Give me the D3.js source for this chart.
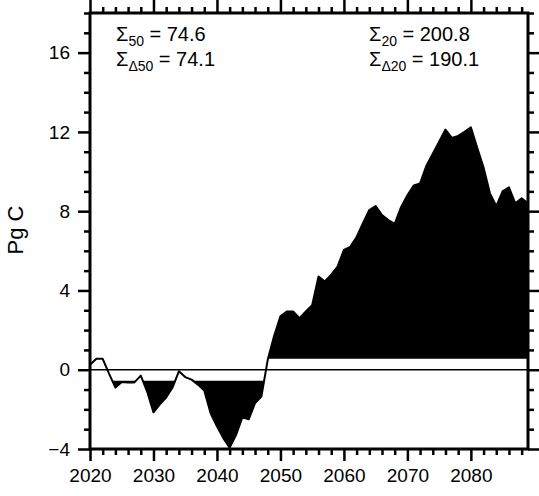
<!DOCTYPE html>
<html>
<head>
<meta charset="utf-8">
<script src="https://cdn.jsdelivr.net/npm/d3@7/dist/d3.min.js"></script>
<style>
  html, body { margin: 0; padding: 0; background: #fff; }
  svg { display: block; }
  text { font-family: "Liberation Sans", Arial, Helvetica, sans-serif; fill: #000; }
</style>
</head>
<body>
<svg id="chart" width="539" height="496"></svg>
<script>
// ---------- data ----------
const years = d3.range(2020, 2090);
const values = [
  0.25, 0.55, 0.55, -0.2, -0.9, -0.62, -0.65, -0.64, -0.3, -1.1,
  -2.15, -1.75, -1.4, -0.9, -0.08, -0.37, -0.5, -0.75, -1.05, -2.2,
  -2.85, -3.45, -3.93, -3.3, -2.4, -2.5, -1.68, -1.35, 0.5, 1.7,
  2.7, 2.94, 2.94, 2.6, 2.94, 3.25, 4.7, 4.45, 4.8, 5.2,
  6.05, 6.2, 6.7, 7.4, 8.06, 8.26, 7.8, 7.55, 7.36, 8.2,
  8.8, 9.3, 9.4, 10.3, 10.9, 11.5, 12.12, 11.7, 11.8, 12.0,
  12.23, 11.2, 10.2, 8.9, 8.26, 9.0, 9.2, 8.4, 8.65, 8.4
];
const xMajorTicks = [2020, 2030, 2040, 2050, 2060, 2070, 2080];
const yMajorTicks = [-4, 0, 4, 8, 12, 16];
const xDomain = [2020, 2089];
const yDomain = [-4, 18];
const fillThreshold = 0.55;
const yLabel = "Pg C";
const annotations = [
  { base: "\u03A3", sub: "50", rest: " = 74.6", pos: "left", line: 0 },
  { base: "\u03A3", sub: "\u039450", rest: " = 74.1", pos: "left", line: 1 },
  { base: "\u03A3", sub: "20", rest: " = 200.8", pos: "right", line: 0 },
  { base: "\u03A3", sub: "\u039420", rest: " = 190.1", pos: "right", line: 1 }
];

// ---------- layout ----------
const L = 90, R = 528, T = 13, B = 449;
const FONT = '"Liberation Sans", Arial, Helvetica, sans-serif';
const svg = d3.select("#chart");
const x = d3.scaleLinear().domain(xDomain).range([L, R]);
const y = d3.scaleLinear().domain(yDomain).range([B, T]);
const data = years.map((yr, i) => ({ yr, v: values[i] }));

// insert crossing points at a threshold so fills begin/end exactly on the curve
function withCrossings(pts, thr) {
  const out = [];
  for (let i = 0; i < pts.length; i++) {
    const p = pts[i];
    if (i > 0) {
      const q = pts[i - 1];
      if ((q.v - thr) * (p.v - thr) < 0) {
        const t = (thr - q.v) / (p.v - q.v);
        out.push({ yr: q.yr + t * (p.yr - q.yr), v: thr });
      }
    }
    out.push(p);
  }
  return out;
}

// split into runs strictly beyond threshold (with bounding crossing points)
function runs(pts, test) {
  const res = [];
  let cur = null;
  for (let i = 0; i < pts.length; i++) {
    const p = pts[i];
    if (test(p)) {
      if (!cur) { cur = []; if (i > 0) cur.push(pts[i - 1]); }
      cur.push(p);
    } else if (cur) {
      cur.push(p);
      res.push(cur);
      cur = null;
    }
  }
  if (cur) res.push(cur);
  return res;
}

const posPts = withCrossings(data, fillThreshold);
const negPts = withCrossings(data, -fillThreshold);
const posRuns = runs(posPts, d => d.v > fillThreshold + 1e-9);
const negRuns = runs(negPts, d => d.v < -fillThreshold - 1e-9);

const areaPos = d3.area().x(d => x(d.yr)).y0(y(fillThreshold)).y1(d => y(Math.max(d.v, fillThreshold)));
const areaNeg = d3.area().x(d => x(d.yr)).y0(y(-fillThreshold)).y1(d => y(Math.min(d.v, -fillThreshold)));

svg.append("g").selectAll("path").data(posRuns).join("path")
  .attr("d", areaPos).attr("fill", "#000");
svg.append("g").selectAll("path").data(negRuns).join("path")
  .attr("d", areaNeg).attr("fill", "#000");

// zero line
svg.append("line").attr("x1", L).attr("x2", R).attr("y1", y(0)).attr("y2", y(0))
  .attr("stroke", "#000").attr("stroke-width", 1.5);

// curve
const line = d3.line().x(d => x(d.yr)).y(d => y(d.v));
svg.append("path").datum(data).attr("d", line).attr("fill", "none")
  .attr("stroke", "#000").attr("stroke-width", 2).attr("stroke-linejoin", "round");

// ---------- axes ----------
const xMinor = d3.range(2020, 2090, 2).filter(v => !xMajorTicks.includes(v));
const yMinor = d3.range(-4, 19, 1).filter(v => !yMajorTicks.includes(v));

function styleAxis(g) {
  g.select(".domain").remove();
  g.selectAll(".tick line").attr("stroke", "#000").attr("stroke-width", 2.5);
  g.selectAll(".tick text").attr("font-size", 19).style("font-family", FONT);
}

// bottom
svg.append("g").attr("transform", `translate(0,${B})`)
  .call(d3.axisBottom(x).tickValues(xMajorTicks).tickFormat(d3.format("d")).tickSize(12).tickPadding(8))
  .call(styleAxis);
svg.append("g").attr("transform", `translate(0,${B})`)
  .call(d3.axisBottom(x).tickValues(xMinor).tickFormat("").tickSize(6))
  .call(styleAxis);
// top
svg.append("g").attr("transform", `translate(0,${T})`)
  .call(d3.axisTop(x).tickValues(xMajorTicks).tickFormat("").tickSize(13))
  .call(styleAxis);
svg.append("g").attr("transform", `translate(0,${T})`)
  .call(d3.axisTop(x).tickValues(xMinor).tickFormat("").tickSize(6))
  .call(styleAxis);
// left
svg.append("g").attr("transform", `translate(${L},0)`)
  .call(d3.axisLeft(y).tickValues(yMajorTicks).tickFormat(d3.format("d")).tickSize(12).tickPadding(8))
  .call(styleAxis);
svg.append("g").attr("transform", `translate(${L},0)`)
  .call(d3.axisLeft(y).tickValues(yMinor).tickFormat("").tickSize(6))
  .call(styleAxis);
// right
svg.append("g").attr("transform", `translate(${R},0)`)
  .call(d3.axisRight(y).tickValues(yMajorTicks).tickFormat("").tickSize(12))
  .call(styleAxis);
svg.append("g").attr("transform", `translate(${R},0)`)
  .call(d3.axisRight(y).tickValues(yMinor).tickFormat("").tickSize(6))
  .call(styleAxis);

// frame
svg.append("rect").attr("x", L).attr("y", T).attr("width", R - L).attr("height", B - T)
  .attr("fill", "none").attr("stroke", "#000").attr("stroke-width", 3);

// y label
svg.append("text").attr("transform", `translate(23,230) rotate(-90)`)
  .attr("text-anchor", "middle").attr("font-size", 22).text(yLabel);

// annotations
const lineY = [41, 66];
annotations.forEach(a => {
  const t = svg.append("text").attr("font-size", 20)
    .attr("y", lineY[a.line]);
  t.attr("x", a.pos === "left" ? 116 : 369).attr("text-anchor", "start");
  t.append("tspan").text(a.base);
  t.append("tspan").attr("font-size", 14).attr("dy", 5).text(a.sub);
  t.append("tspan").attr("dy", -5).text(a.rest);
});
</script>
</body>
</html>
